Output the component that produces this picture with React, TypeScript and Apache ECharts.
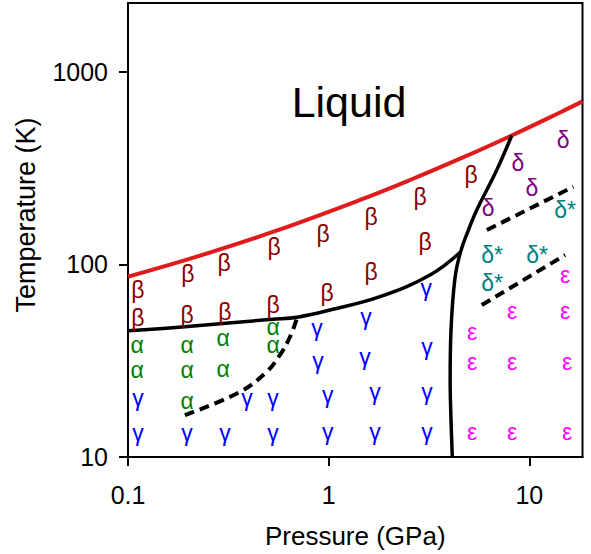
import React, { useEffect, useRef } from 'react';
import * as echarts from 'echarts';

// Axis definitions
const xTickValues = [0.1, 1, 10];
const xTickLabels = ['0.1', '1', '10'];
const yTickValues = [10, 100, 1000];
const yTickLabels = ['10', '100', '1000'];
const xRange = [0.1, 18.4];
const yRange = [10, 2276];

// Phase boundaries: [pressure GPa, temperature K]
const meltingCurve = [
  [0.1, 86.3], [0.2285, 111], [0.54, 148.7], [1.433, 216], [2.543, 274.3],
  [4.515, 354], [8.014, 463], [14.22, 615], [18.4, 702],
];
const betaBoundary = [
  [0.1, 45.3], [0.192, 47.5], [0.526, 51.9], [0.696, 53.2], [1.016, 58.0],
  [1.803, 68.0], [3.2, 88.1], [4.54, 116],
];
const highPressureBoundary = [
  [8.17, 467], [6.88, 309], [5.47, 191.7], [4.97, 150.8], [4.54, 116],
  [4.26, 85], [4.07, 45.6], [4.03, 25.1], [4.06, 16.9], [4.13, 10],
];
const alphaGammaDashed = [
  [0.192, 16.5], [0.3617, 21.8], [0.491, 27.7], [0.572, 33.9], [0.642, 42.1], [0.696, 52.7],
];
const deltaDashed = [[6.14, 150.8], [16.57, 253]];
const epsilonDashed = [[5.79, 61.5], [15.07, 111.9]];

// Phase labels (points of observation)
const betaPoints = [
  [0.112, 73.6], [0.112, 52.7], [0.199, 89.2], [0.197, 54.6], [0.301, 101.7], [0.304, 56.6],
  [0.534, 123.1], [0.528, 61.5], [0.937, 144], [0.981, 70.8], [1.626, 176], [1.626, 91.3],
  [2.853, 224], [3.02, 131], [5.12, 291],
];
const alphaPoints = [
  [0.111, 38.1], [0.111, 28.3], [0.197, 38.1], [0.197, 28.3], [0.197, 19.5],
  [0.2975, 41.5], [0.2975, 28.6], [0.528, 47.3], [0.528, 38.1],
];
const gammaPoints = [
  [0.112, 20.2], [0.112, 13.3], [0.197, 13.3], [0.304, 13.3], [0.392, 20.2], [0.528, 20.2],
  [0.528, 13.3], [0.875, 46.7], [0.885, 31.5], [0.99, 21.0], [0.99, 13.5], [1.535, 53.3],
  [1.518, 33.0], [1.7, 21.8], [1.7, 13.5], [3.06, 75.4], [3.09, 37.2], [3.09, 21.8], [3.09, 13.5],
];
const deltaPoints = [[14.72, 442], [8.78, 336], [10.3, 249], [6.23, 196]];
const deltaStarPoints = [[15.07, 192], [6.52, 111.9], [10.93, 111.9], [6.52, 80.1]];
const epsilonPoints = [
  [15.07, 88.1], [8.2, 57.3], [15.07, 57.3], [5.18, 44.6], [5.18, 31.1], [8.2, 31.1],
  [15.41, 31.1], [5.18, 13.5], [8.2, 13.5], [15.41, 13.5],
];
const liquidPoint = [[1.263, 700]];

const FONT = '"Liberation Sans", Arial, Helvetica, sans-serif';

function labelFor(values: number[], labels: string[], v: number) {
  let best = 0;
  for (let i = 0; i < values.length; i++) {
    if (Math.abs(Math.log10(values[i]) - Math.log10(v)) < Math.abs(Math.log10(values[best]) - Math.log10(v))) best = i;
  }
  return labels[best];
}

function textSeries(name: string, data: number[][], text: string, color: string, size = 23) {
  return {
    type: 'scatter',
    name,
    data,
    symbol: 'circle',
    symbolSize: 1,
    itemStyle: { color: 'rgba(0,0,0,0)', opacity: 1 },
    label: {
      show: true,
      position: 'inside',
      formatter: text,
      color,
      opacity: 1,
      fontSize: size,
      fontFamily: FONT,
      textBorderWidth: 0,
    },
    emphasis: { disabled: true },
    silent: true,
    z: 4,
  };
}

function lineSeries(name: string, data: number[][], color: string, width: number, dashed = false, smooth: number | boolean = 0.4) {
  return {
    type: 'line',
    name,
    data,
    smooth,
    symbol: 'none',
    showSymbol: false,
    lineStyle: { color, width, type: dashed ? [10, 6] : 'solid', cap: 'butt', opacity: 1 },
    emphasis: { disabled: true },
    silent: true,
    z: 3,
  };
}

export default function App() {
  const ref = useRef<HTMLDivElement>(null);
  useEffect(() => {
    const chart = echarts.init(ref.current!, null, { renderer: 'svg' });
    const axisCommon = {
      type: 'log',
      logBase: 10,
      axisLine: { show: true, lineStyle: { color: '#000', width: 2 } },
      splitLine: { show: false },
      minorTick: { show: false },
      minorSplitLine: { show: false },
    };
    chart.setOption({
      animation: false,
      backgroundColor: '#fff',
      grid: {
        left: 128, top: 3, right: 8.5, bottom: 97,
        show: true, borderColor: '#000', borderWidth: 2,
        outerBoundsMode: 'none', containLabel: false,
      },
      xAxis: {
        ...axisCommon,
        min: xRange[0],
        max: xRange[1],
        axisTick: { show: true, inside: false, length: 9, lineStyle: { color: '#000', width: 2 }, customValues: xTickValues },
        axisLabel: {
          customValues: xTickValues,
          formatter: (v: number) => labelFor(xTickValues, xTickLabels, v),
          color: '#000', fontSize: 25, fontFamily: FONT, margin: 25,
        },
        name: 'Pressure (GPa)',
        nameLocation: 'middle',
        nameGap: 66,
        nameTextStyle: { color: '#000', fontSize: 26, fontFamily: FONT },
      },
      yAxis: {
        ...axisCommon,
        min: yRange[0],
        max: yRange[1],
        axisTick: { show: true, inside: false, length: 9, lineStyle: { color: '#000', width: 2 }, customValues: yTickValues },
        axisLabel: {
          customValues: yTickValues,
          formatter: (v: number) => labelFor(yTickValues, yTickLabels, v),
          color: '#000', fontSize: 25, fontFamily: FONT, margin: 20,
        },
      },
      graphic: [
        {
          type: 'text',
          x: 26,
          y: 215,
          rotation: Math.PI / 2,
          style: {
            text: 'Temperature (K)',
            fill: '#000',
            fontSize: 27,
            fontFamily: FONT,
            align: 'center',
            verticalAlign: 'middle',
          },
        },
      ],
      series: [
        lineSeries('melting', meltingCurve, '#e01b1b', 4),
        lineSeries('beta boundary', betaBoundary, '#000', 3.5),
        lineSeries('high pressure boundary', highPressureBoundary, '#000', 3.5),
        lineSeries('alpha-gamma', alphaGammaDashed, '#000', 4, true),
        lineSeries('delta', deltaDashed, '#000', 4, true, false),
        lineSeries('epsilon', epsilonDashed, '#000', 4, true, false),
        textSeries('β', betaPoints, 'β', '#8b0000'),
        textSeries('α', alphaPoints, 'α', '#008000'),
        textSeries('γ', gammaPoints, 'γ', '#0000ff'),
        textSeries('δ', deltaPoints, 'δ', '#800080'),
        textSeries('δ*', deltaStarPoints, 'δ*', '#008080'),
        textSeries('ε', epsilonPoints, 'ε', '#ff00ff'),
        textSeries('Liquid', liquidPoint, 'Liquid', '#000', 43),
      ],
    });
    return () => chart.dispose();
  }, []);
  return (
    <div
      ref={ref}
      style={{ position: 'fixed', left: 0, top: 0, width: 591, height: 554, background: '#fff' }}
    />
  );
}
